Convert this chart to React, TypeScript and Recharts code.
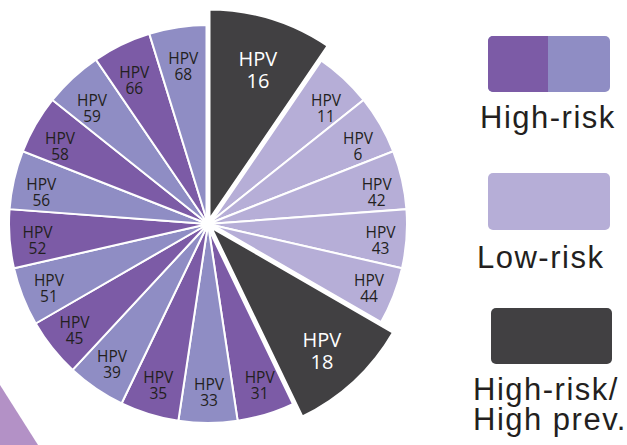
import React from 'react';
import { PieChart, Pie, Cell } from 'recharts';

const types = ['16', '11', '6', '42', '43', '44', '18', '31', '33', '35', '39', '45', '51', '52', '56', '58', '59', '66', '68'];
const shares = [2, 1, 1, 1, 1, 1, 2, 1, 1, 1, 1, 1, 1, 1, 1, 1, 1, 1, 1];
const groups = ['prev', 'low', 'low', 'low', 'low', 'low', 'prev', 'hd', 'hl', 'hd', 'hl', 'hd', 'hl', 'hd', 'hl', 'hd', 'hl', 'hd', 'hl'];
const legendLabels = ['High-risk', 'Low-risk', 'High-risk/', 'High prev.'];

const COLORS: Record<string, string> = {
  prev: '#414042',
  low: '#b6aed7',
  hd: '#7c5ba6',
  hl: '#8f8dc4',
};

const data = types.map((t, i) => ({ name: 'HPV ' + t, num: t, value: shares[i], group: groups[i] }));

const RAD = Math.PI / 180;

const renderLabel = (props: any) => {
  const { cx, cy, midAngle, index } = props;
  const d = data[index];
  const big = d.group === 'prev';
  const rx = big ? 166 : 172;
  const ry = big ? 166 : 164;
  const x = cx + 1 + rx * Math.cos(-midAngle * RAD);
  const y = cy + 4 + ry * Math.sin(-midAngle * RAD);
  const fs = big ? 20 : 15.5;
  const step = big ? 22 : 16;
  const fill = big ? '#ffffff' : '#231f20';
  return (
    <text
      key={'lbl' + index}
      x={x}
      y={y - step / 2}
      textAnchor="middle"
      dominantBaseline="central"
      fontSize={fs}
      fill={fill}
      fontFamily="Open Sans, sans-serif"
    >
      <tspan x={x} dy={0}>HPV</tspan>
      <tspan x={x} dy={step}>{d.num}</tspan>
    </text>
  );
};

export default function App() {
  const legendFont = 'Liberation Sans, Arial, sans-serif';
  return (
    <div style={{ position: 'absolute', left: 0, top: 0, width: 627, height: 445, background: '#fff', overflow: 'hidden' }}>
      <svg width={627} height={445} style={{ position: 'absolute', left: 0, top: 0 }}>
        <polygon points="0,385 38,445 0,445" fill="#b391c6" />
      </svg>
      <div style={{ position: 'absolute', left: 0, top: 0 }}>
        <PieChart width={627} height={445} margin={{ top: 0, right: 0, bottom: 0, left: 0 }}>
          <Pie
            data={data}
            dataKey="value"
            cx={208}
            cy={224}
            outerRadius={199}
            startAngle={90}
            endAngle={-270}
            isAnimationActive={false}
            labelLine={false}
          >
            {data.map((d, i) => (
              <Cell
                key={'a' + i}
                fill={d.group === 'prev' ? 'none' : COLORS[d.group]}
                stroke={d.group === 'prev' ? 'none' : '#ffffff'}
                strokeWidth={2}
              />
            ))}
          </Pie>
          <Pie
            data={data}
            dataKey="value"
            cx={208}
            cy={224}
            outerRadius={216}
            startAngle={90}
            endAngle={-270}
            isAnimationActive={false}
            labelLine={false}
            label={renderLabel}
          >
            {data.map((d, i) => (
              <Cell
                key={'b' + i}
                fill={d.group === 'prev' ? COLORS.prev : 'none'}
                stroke={d.group === 'prev' ? '#ffffff' : 'none'}
                strokeWidth={5}
              />
            ))}
          </Pie>
        </PieChart>
      </div>
      <svg width={627} height={445} style={{ position: 'absolute', left: 0, top: 0 }}>
        <rect x={488} y={36} width={122} height={56} rx={5} fill={COLORS.hl} />
        <path d="M 493 36 H 548 V 92 H 493 A 5 5 0 0 1 488 87 V 41 A 5 5 0 0 1 493 36 Z" fill={COLORS.hd} />
        <text x={480} y={128} fontSize={31} letterSpacing={1.5} fill="#231f20" fontFamily={legendFont}>{legendLabels[0]}</text>
        <rect x={488} y={173} width={122} height={57} rx={5} fill={COLORS.low} />
        <text x={477} y={268} fontSize={31} letterSpacing={1.5} fill="#231f20" fontFamily={legendFont}>{legendLabels[1]}</text>
        <rect x={491} y={308} width={121} height={56} rx={5} fill={COLORS.prev} />
        <text x={473} y={400} fontSize={31} letterSpacing={1.5} fill="#231f20" fontFamily={legendFont}>{legendLabels[2]}</text>
        <text x={473} y={430} fontSize={31} letterSpacing={1.5} fill="#231f20" fontFamily={legendFont}>{legendLabels[3]}</text>
      </svg>
    </div>
  );
}
